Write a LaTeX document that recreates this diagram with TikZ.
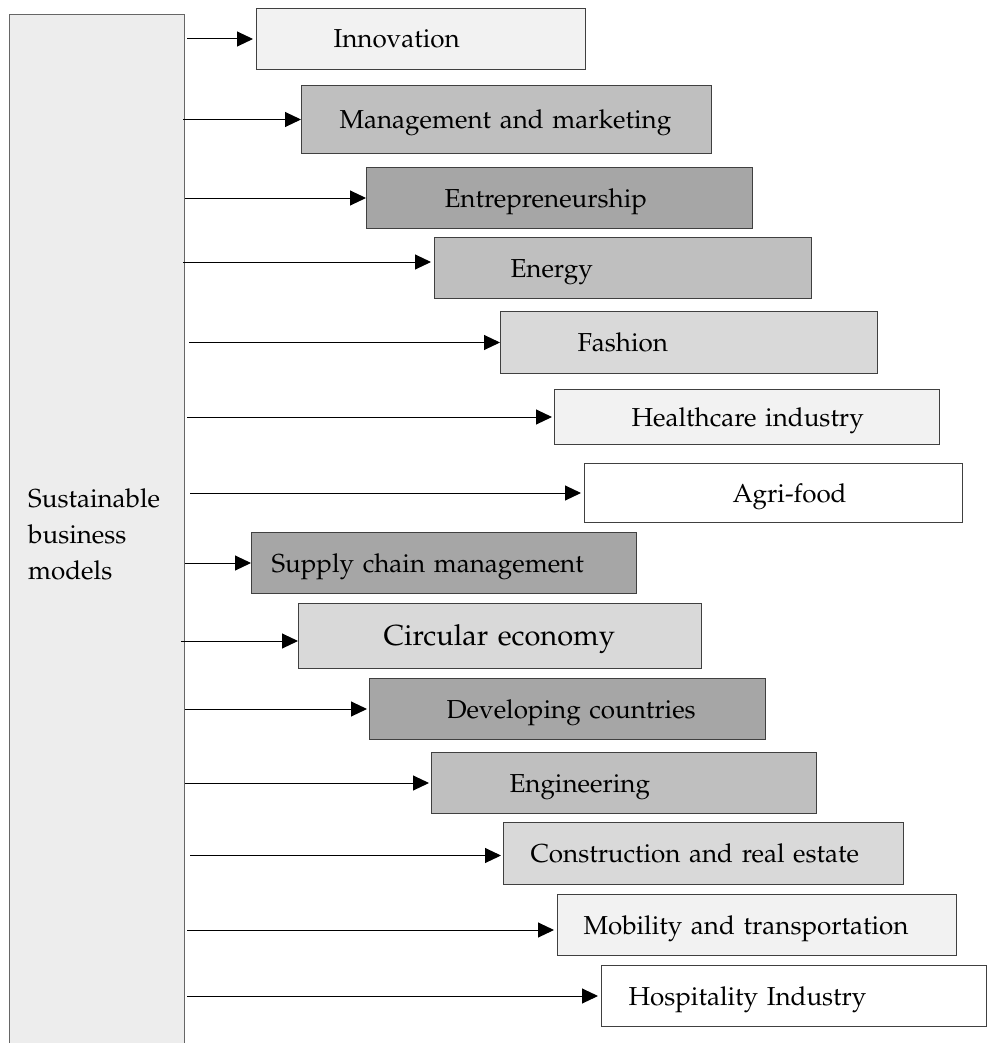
\documentclass[tikz,border=0pt]{standalone}
\usepackage[T1]{fontenc}
\renewcommand{\rmdefault}{ppl}
\usepackage{xcolor}
\usepackage{tikz}
\usetikzlibrary{positioning,calc,arrows.meta}
\definecolor{lightfill}{HTML}{F2F2F2}
\definecolor{midfill}{HTML}{BFBFBF}
\definecolor{darkfill}{HTML}{A6A6A6}
\definecolor{palefill}{HTML}{D9D9D9}
\definecolor{mainfill}{HTML}{EDEDED}
\definecolor{edgegray}{HTML}{404040}

\begin{document}
\begin{tikzpicture}[
    x=1pt, y=-1pt,
    font=\fontsize{26}{36}\selectfont,
    mainbox/.style={rectangle, draw=edgegray!80, fill=mainfill, line width=1pt, minimum width=175pt, minimum height=1040pt, anchor=north west, inner sep=0pt},
    topic/.style={rectangle, draw=edgegray, line width=1pt, anchor=north west, inner sep=0pt, align=left, text height=18pt, text depth=0pt},
    arrow/.style={-{Triangle[length=16pt,width=15pt]}, line width=1pt}
]
\useasboundingbox (0,0) rectangle (987,1043);

% Main box
\node[mainbox] (sbm) at (9,14) {};
\node[anchor=west, align=left, inner sep=0pt] (sbmtext) at (28,534) {Sustainable\\business\\models};

% Topics
\node[topic, fill=lightfill, text width=329pt, minimum height=61pt] (b1) at (256,8) {\hspace*{77pt}Innovation};
\node[topic, fill=midfill, text width=410pt, minimum height=68pt] (b2) at (301,85) {\hspace*{38pt}Management and marketing};
\node[topic, fill=darkfill, text width=386pt, minimum height=61pt] (b3) at (366,167) {\hspace*{78pt}Entrepreneurship};
\node[topic, fill=midfill, text width=377pt, minimum height=61pt] (b4) at (434,237) {\hspace*{76pt}Energy};
\node[topic, fill=palefill, text width=377pt, minimum height=62pt] (b5) at (500,311) {\hspace*{77pt}Fashion};
\node[topic, fill=lightfill, text width=385pt, minimum height=55pt] (b6) at (554,389) {\hspace*{77pt}Healthcare industry};
\node[topic, fill=white, text width=378pt, minimum height=59pt] (b7) at (584,463) {\hspace*{148pt}Agri-food};
\node[topic, fill=darkfill, text width=385pt, minimum height=61pt] (b8) at (251,532) {\hspace*{20pt}Supply chain management};
\node[topic, fill=palefill, text width=403pt, minimum height=65pt, font=\fontsize{29}{36}\selectfont] (b9) at (298,603) {\hspace*{85pt}Circular economy};
\node[topic, fill=darkfill, text width=396pt, minimum height=61pt] (b10) at (369,678) {\hspace*{77pt}Developing countries};
\node[topic, fill=midfill, text width=385pt, minimum height=61pt] (b11) at (431,752) {\hspace*{78pt}Engineering};
\node[topic, fill=palefill, text width=400pt, minimum height=62pt] (b12) at (503,822) {\hspace*{27pt}Construction and real estate};
\node[topic, fill=lightfill, text width=399pt, minimum height=61pt] (b13) at (557,894) {\hspace*{26pt}Mobility and transportation};
\node[topic, fill=white, text width=385pt, minimum height=61pt] (b14) at (601,965) {\hspace*{27pt}Hospitality Industry};

% Arrows
\draw[arrow] ($(sbm.east |- b1.west)+(2,0)$) -- ($(b1.west)+(-3,0)$);
\draw[arrow] ($(sbm.east |- b2.west)+(-2,0)$) -- (b2.west);
\draw[arrow] (sbm.east |- b3.west) -- (b3.west);
\draw[arrow] ($(sbm.east |- b4.west)+(-2,-6)$) -- ($(b4.west)+(-3,-6)$);
\draw[arrow] ($(sbm.east |- b5.west)+(4,0)$) -- (b5.west);
\draw[arrow] ($(sbm.east |- b6.west)+(2,0)$) -- ($(b6.west)+(-2,0)$);
\draw[arrow] ($(sbm.east |- b7.west)+(5,0)$) -- ($(b7.west)+(-3,0)$);
\draw[arrow] (sbm.east |- b8.west) -- (b8.west);
\draw[arrow] ($(sbm.east |- b9.west)+(-4,5)$) -- ($(b9.west)+(0,5)$);
\draw[arrow] (sbm.east |- b10.west) -- ($(b10.west)+(-2,0)$);
\draw[arrow] (sbm.east |- b11.west) -- ($(b11.west)+(-2,0)$);
\draw[arrow] ($(sbm.east |- b12.west)+(5,2)$) -- ($(b12.west)+(-2,2)$);
\draw[arrow] ($(sbm.east |- b13.west)+(2,5)$) -- ($(b13.west)+(-3,5)$);
\draw[arrow] ($(sbm.east |- b14.west)+(2,0)$) -- ($(b14.west)+(-3,0)$);

\end{tikzpicture}
\end{document}
